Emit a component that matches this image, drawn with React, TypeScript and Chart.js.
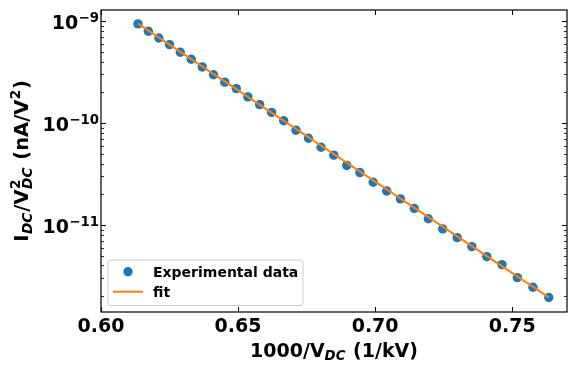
import React, { useEffect, useRef } from "react";
import { Chart, registerables } from "chart.js";

Chart.register(...registerables);

// 1000 / V_DC  (1/kV)
const invVoltage = [
  0.6135, 0.61728, 0.62112, 0.625, 0.62893, 0.63291, 0.63694, 0.64103, 0.64516,
  0.64935, 0.65359, 0.65789, 0.66225, 0.66667, 0.67114, 0.67568, 0.68027,
  0.68493, 0.68966, 0.69444, 0.6993, 0.70423, 0.70922, 0.71429, 0.71942,
  0.72464, 0.72993, 0.73529, 0.74074, 0.74627, 0.75188, 0.75758, 0.76336,
];
// I_DC / V_DC^2  (nA/V^2)
const currentRatio = [
  9.35e-10, 7.93e-10, 6.81e-10, 5.86e-10, 4.93e-10, 4.21e-10, 3.54e-10, 2.97e-10,
  2.51e-10, 2.17e-10, 1.8e-10, 1.51e-10, 1.27e-10, 1.05e-10, 8.48e-11, 7.08e-11,
  5.78e-11, 4.83e-11, 3.83e-11, 3.26e-11, 2.62e-11, 2.15e-11, 1.8e-11, 1.45e-11,
  1.15e-11, 9.14e-12, 7.51e-12, 6.13e-12, 4.89e-12, 4.08e-12, 3.04e-12, 2.45e-12,
  1.94e-12,
];
const fitX = [0.6135, 0.76336];
const fitY = [9.4e-10, 1.95e-12];

const xTicks = [0.6, 0.65, 0.7, 0.75];
const xTickLabels = ["0.60", "0.65", "0.70", "0.75"];
const yMajorTicks = [1e-9, 1e-10, 1e-11];
const yTickExponents = ["\u22129", "\u221210", "\u221211"];
const yMinorTicks = [
  2e-10, 3e-10, 4e-10, 5e-10, 6e-10, 7e-10, 8e-10, 9e-10,
  2e-11, 3e-11, 4e-11, 5e-11, 6e-11, 7e-11, 8e-11, 9e-11,
  2e-12, 3e-12, 4e-12, 5e-12, 6e-12, 7e-12, 8e-12, 9e-12,
];
const legendLabels = ["Experimental data", "fit"];

const BLUE = "#1f77b4";
const ORANGE = "#ff7f0e";
const FONT = "'DejaVu Sans', sans-serif";

const decorPlugin = {
  id: "decor",
  afterDraw(chart: any) {
    const ctx: CanvasRenderingContext2D = chart.ctx;
    const { left, right, top, bottom } = chart.chartArea;
    const xs = chart.scales.x;
    const ys = chart.scales.y;
    ctx.save();
    ctx.strokeStyle = "#000";

    // ticks (inward, all sides)
    ctx.lineWidth = 1;
    xTicks.forEach((v) => {
      const px = Math.round(xs.getPixelForValue(v)) + 0.5;
      ctx.beginPath();
      ctx.moveTo(px, bottom);
      ctx.lineTo(px, bottom - 5);
      ctx.moveTo(px, top);
      ctx.lineTo(px, top + 5);
      ctx.stroke();
    });
    yMajorTicks.forEach((v) => {
      const py = Math.round(ys.getPixelForValue(v)) + 0.5;
      ctx.beginPath();
      ctx.moveTo(left, py);
      ctx.lineTo(left + 5, py);
      ctx.moveTo(right, py);
      ctx.lineTo(right - 5, py);
      ctx.stroke();
    });
    ctx.lineWidth = 0.8;
    yMinorTicks.forEach((v) => {
      const py = Math.round(ys.getPixelForValue(v)) + 0.5;
      if (py < top || py > bottom) return;
      ctx.beginPath();
      ctx.moveTo(left, py);
      ctx.lineTo(left + 3, py);
      ctx.moveTo(right, py);
      ctx.lineTo(right - 3, py);
      ctx.stroke();
    });

    // frame
    ctx.lineWidth = 1.2;
    ctx.strokeRect(left, top, right - left, bottom - top);

    ctx.fillStyle = "#000";
    ctx.textBaseline = "alphabetic";

    // x tick labels
    ctx.font = `bold 19px ${FONT}`;
    ctx.textAlign = "center";
    xTicks.forEach((v, i) => {
      ctx.fillText(xTickLabels[i], xs.getPixelForValue(v), bottom + 20);
    });

    // y tick labels 10^n (right-aligned)
    ctx.textAlign = "left";
    yMajorTicks.forEach((v, i) => {
      const py = ys.getPixelForValue(v);
      ctx.font = `bold 19px ${FONT}`;
      const wBase = ctx.measureText("10").width;
      ctx.font = `bold 13.3px ${FONT}`;
      const wExp = ctx.measureText(yTickExponents[i]).width;
      const start = 98.5 - (wBase + wExp);
      ctx.font = `bold 19px ${FONT}`;
      ctx.fillText("10", start, py + 8.5);
      ctx.font = `bold 13.3px ${FONT}`;
      ctx.fillText(yTickExponents[i], start + wBase + 0.5, py + 1);
    });

    const drawRuns = (runs: any[], cx: number, baseY: number) => {
      let total = 0;
      runs.forEach((r) => {
        ctx.font = r.font;
        r.w = ctx.measureText(r.t).width + (r.gap || 0);
        if (!r.stack) total += r.w;
      });
      let x = cx - total / 2;
      runs.forEach((r) => {
        ctx.font = r.font;
        ctx.fillText(r.t, x, baseY + r.dy);
        if (!r.stack) x += r.w;
      });
    };
    const main = `bold 19px ${FONT}`;
    const sub = `italic bold 13.3px ${FONT}`;
    const sup = `bold 13.3px ${FONT}`;
    ctx.textAlign = "left";
    // x axis title: 1000/V_DC (1/kV)
    drawRuns(
      [
        { t: "1000/V", font: main, dy: 0 },
        { t: "DC", font: sub, dy: 3, gap: 1 },
        { t: " (1/kV)", font: main, dy: 0 },
      ],
      (left + right) / 2,
      bottom + 44.5
    );

    // y axis title: I_DC/V_DC^2 (nA/V^2)
    const mainY = `bold 19.5px ${FONT}`;
    const subY = `italic bold 13.7px ${FONT}`;
    const supY = `bold 13.7px ${FONT}`;
    ctx.save();
    ctx.translate(28, (top + bottom) / 2);
    ctx.rotate(-Math.PI / 2);
    drawRuns(
      [
        { t: "I", font: mainY, dy: 0, gap: 0.5 },
        { t: "DC", font: subY, dy: 3.5, gap: 1 },
        { t: "/V", font: mainY, dy: 0, gap: 0.5 },
        { t: "2", font: supY, dy: -8, stack: true },
        { t: "DC", font: subY, dy: 3.5, gap: 1 },
        { t: " (nA/V", font: mainY, dy: 0, gap: 0.5 },
        { t: "2", font: supY, dy: -8, gap: 0.5 },
        { t: ")", font: mainY, dy: 0 },
      ],
      0,
      0
    );
    ctx.restore();

    // legend
    const lx = left + 7;
    const ly = bottom - 52;
    const lw = 195;
    const lh = 45.5;
    ctx.beginPath();
    const r = 3;
    ctx.moveTo(lx + r, ly);
    ctx.lineTo(lx + lw - r, ly);
    ctx.arcTo(lx + lw, ly, lx + lw, ly + r, r);
    ctx.lineTo(lx + lw, ly + lh - r);
    ctx.arcTo(lx + lw, ly + lh, lx + lw - r, ly + lh, r);
    ctx.lineTo(lx + r, ly + lh);
    ctx.arcTo(lx, ly + lh, lx, ly + lh - r, r);
    ctx.lineTo(lx, ly + r);
    ctx.arcTo(lx, ly, lx + r, ly, r);
    ctx.closePath();
    ctx.fillStyle = "rgba(255,255,255,0.8)";
    ctx.fill();
    ctx.strokeStyle = "#cccccc";
    ctx.lineWidth = 1;
    ctx.stroke();

    ctx.fillStyle = BLUE;
    ctx.beginPath();
    ctx.arc(lx + 20, ly + 11.7, 4.7, 0, Math.PI * 2);
    ctx.fill();
    ctx.strokeStyle = ORANGE;
    ctx.lineWidth = 2;
    ctx.beginPath();
    ctx.moveTo(lx + 5, ly + 31.7);
    ctx.lineTo(lx + 35, ly + 31.7);
    ctx.stroke();

    ctx.fillStyle = "#000";
    ctx.font = `bold 14px ${FONT}`;
    ctx.fillText(legendLabels[0], lx + 45, ly + 16.7);
    ctx.fillText(legendLabels[1], lx + 45, ly + 36.7);

    ctx.restore();
  },
};

export default function App() {
  const ref = useRef<HTMLCanvasElement | null>(null);
  useEffect(() => {
    if (!ref.current) return;
    const chart = new Chart(ref.current, {
      type: "scatter",
      data: {
        datasets: [
          {
            label: legendLabels[1],
            data: fitX.map((x, i) => ({ x, y: fitY[i] })),
            showLine: true,
            borderColor: ORANGE,
            borderWidth: 2,
            pointRadius: 0,
            pointHoverRadius: 0,
          },
          {
            label: legendLabels[0],
            data: invVoltage.map((x, i) => ({ x, y: currentRatio[i] })),
            showLine: false,
            backgroundColor: BLUE,
            borderColor: BLUE,
            borderWidth: 0,
            pointRadius: 4.7,
          },
        ],
      },
      options: {
        animation: false,
        responsive: false,
        layout: { padding: { left: 101, right: 11, top: 10, bottom: 60 } },
        plugins: {
          legend: { display: false },
          tooltip: { enabled: false },
        },
        scales: {
          x: { type: "linear", min: 0.6, max: 0.77, display: false },
          y: { type: "logarithmic", min: 1.4e-12, max: 1.28e-9, display: false },
        },
      },
      plugins: [decorPlugin],
    });
    return () => chart.destroy();
  }, []);
  return (
    <div style={{ position: "fixed", left: 0, top: 0, width: 578, height: 372, background: "#fff" }}>
      <canvas ref={ref} width={578} height={372} />
    </div>
  );
}
